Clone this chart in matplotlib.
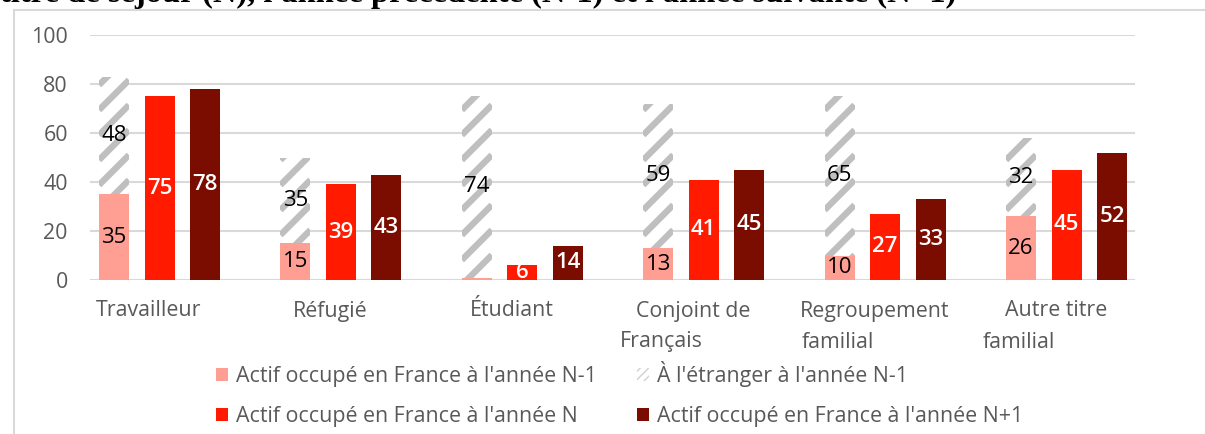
import matplotlib
matplotlib.use("Agg")
import matplotlib.pyplot as plt
from matplotlib.patches import Patch
from matplotlib.lines import Line2D
from matplotlib.collections import LineCollection
import numpy as np

# ---------------- data ----------------
categories_line1 = ["Travailleur", "Réfugié", "Étudiant", "Conjoint de", "Regroupement", "Autre titre"]
categories_line2 = ["", "", "", "Français", "familial", "familial"]
actif_n_moins_1 = [35, 15, 1, 13, 10, 26]
etranger_n_moins_1 = [48, 35, 74, 59, 65, 32]
actif_n = [75, 39, 6, 41, 27, 45]
actif_n_plus_1 = [78, 43, 14, 45, 33, 52]
yticks = [0, 20, 40, 60, 80, 100]
legend_labels = ["Actif occupé en France à l'année N-1", "À l'étranger à l'année N-1",
                 "Actif occupé en France à l'année N", "Actif occupé en France à l'année N+1"]
title_text = "titre de séjour (N), l'année précédente (N-1) et l'année suivante (N+1)"

# ---------------- style ----------------
FONT = "Open Sans"
GRAY_TXT = "#595959"
GRID = "#D9D9D9"
C_PINK = "#FF9F94"
C_HATCH = "#BFBFBF"
C_RED = "#FF1A00"
C_DARK = "#7A0C00"

W, H, DPI = 1205, 434, 100
fig = plt.figure(figsize=(W / DPI, H / DPI), dpi=DPI)

px_unit = 181.4  # pixels per category
x0_px = 159.5
left_px, right_px = 90, 1135
y0_px, y100_px = 280, 35
px_per_y = (y0_px - y100_px) / 100.0
ax = fig.add_axes([left_px / W, (H - y0_px) / H, (right_px - left_px) / W, (y0_px - y100_px) / H])
ax.set_xlim((left_px - x0_px) / px_unit, (right_px - x0_px) / px_unit)
ax.set_ylim(0, 100)

x = np.arange(len(categories_line1))
off = 45.5 / px_unit
bw = 30 / px_unit

for v in yticks:
    ax.axhline(v, color=GRID, lw=1.5, zorder=0)

b1 = ax.bar(x - off, actif_n_moins_1, bw, color=C_PINK, zorder=2)
b2 = ax.bar(x - off, etranger_n_moins_1, bw, bottom=actif_n_moins_1, facecolor="white",
            linewidth=0, zorder=2)
b3 = ax.bar(x, actif_n, bw, color=C_RED, zorder=2)
b4 = ax.bar(x + off, actif_n_plus_1, bw, color=C_DARK, zorder=2)

# diagonal stripes (45 degrees on screen) clipped to each hatched bar
k = px_unit / px_per_y          # y data units per x data unit for 45deg
period = 25 / px_per_y          # vertical period in y units
for rect in b2.patches:
    xl = rect.get_x()
    xr = xl + rect.get_width()
    span = (xr - xl) * k
    segs = []
    c = -span - period
    while c < 100 + period:
        segs.append([(xl, c), (xr, c + span)])
        c += period
    lc = LineCollection(segs, colors=C_HATCH, linewidths=4.6, zorder=2.1, capstyle="butt")
    ax.add_collection(lc, autolim=False)
    lc.set_clip_path(rect)

LBL = 16
for i in range(len(x)):
    a = actif_n_moins_1[i]
    e = etranger_n_moins_1[i]
    if a >= 3:
        ax.text(x[i] - off, a / 2, str(a), ha="center", va="center", fontsize=LBL,
                family=FONT, color="black", zorder=3)
    ax.text(x[i] - off, a + e / 2, str(e), ha="center", va="center", fontsize=LBL,
            family=FONT, color="black", zorder=3)
    ax.text(x[i], actif_n[i] / 2, str(actif_n[i]), ha="center", va="center", fontsize=LBL,
            family=FONT, color="white", fontweight="semibold", zorder=3, clip_on=False)
    ax.text(x[i] + off, actif_n_plus_1[i] / 2, str(actif_n_plus_1[i]), ha="center", va="center",
            fontsize=LBL, family=FONT, color="white", fontweight="semibold", zorder=3)

# category labels
TXT = 15.4
lab_shift = 10.5 / px_unit
line2_shift = 73 / px_unit
y_l1 = -(311 - y0_px) / px_per_y
y_l2 = -(342 - y0_px) / px_per_y
for i in range(len(x)):
    ax.text(x[i] - lab_shift, y_l1, categories_line1[i], ha="center", va="center",
            fontsize=TXT, family=FONT, color=GRAY_TXT, clip_on=False)
    if categories_line2[i]:
        ax.text(x[i] - lab_shift - line2_shift, y_l2, categories_line2[i], ha="left", va="center",
                fontsize=TXT, family=FONT, color=GRAY_TXT, clip_on=False)

ax.set_xticks([])
ax.set_yticks(yticks)
ax.set_yticklabels([str(v) for v in yticks], fontsize=TXT, family=FONT, color=GRAY_TXT)
ax.tick_params(axis="y", length=0, pad=16)
for s in ax.spines.values():
    s.set_visible(False)
ax.patch.set_alpha(0)

# legend
handles = [Patch(facecolor=C_PINK, edgecolor="none"),
           Patch(facecolor=C_RED, edgecolor="none"),
           Patch(facecolor="white", edgecolor="#D0D0D0", hatch="////", linewidth=0),
           Patch(facecolor=C_DARK, edgecolor="none")]
labels = [legend_labels[0], legend_labels[2], legend_labels[1], legend_labels[3]]
fig.legend(handles, labels, ncol=2, loc="upper left",
           bbox_to_anchor=(216 / W, 1 - 361 / H), frameon=False,
           prop={"family": FONT, "size": TXT}, labelcolor=GRAY_TXT,
           handlelength=0.57, handleheight=0.57, handletextpad=0.35,
           columnspacing=1.9, labelspacing=0.88, borderpad=0, borderaxespad=0)

# chart frame (top and left border)
fig.add_artist(Line2D([14 / W, 14 / W], [0, 1 - 10 / H], transform=fig.transFigure, color=GRID, lw=1.5))
fig.add_artist(Line2D([14 / W, 1.0], [1 - 10 / H, 1 - 10 / H], transform=fig.transFigure, color=GRID, lw=1.5))

# cropped title (bold serif), fitted to width
t = fig.text(0, 1 - 2 / H, title_text, ha="left", va="baseline", fontsize=20,
             family="Liberation Serif", fontweight="bold", color="black")
fig.canvas.draw()
w_px = t.get_window_extent().width
t.set_fontsize(20 * 955 / w_px)

fig.savefig("out.png", dpi=DPI)
